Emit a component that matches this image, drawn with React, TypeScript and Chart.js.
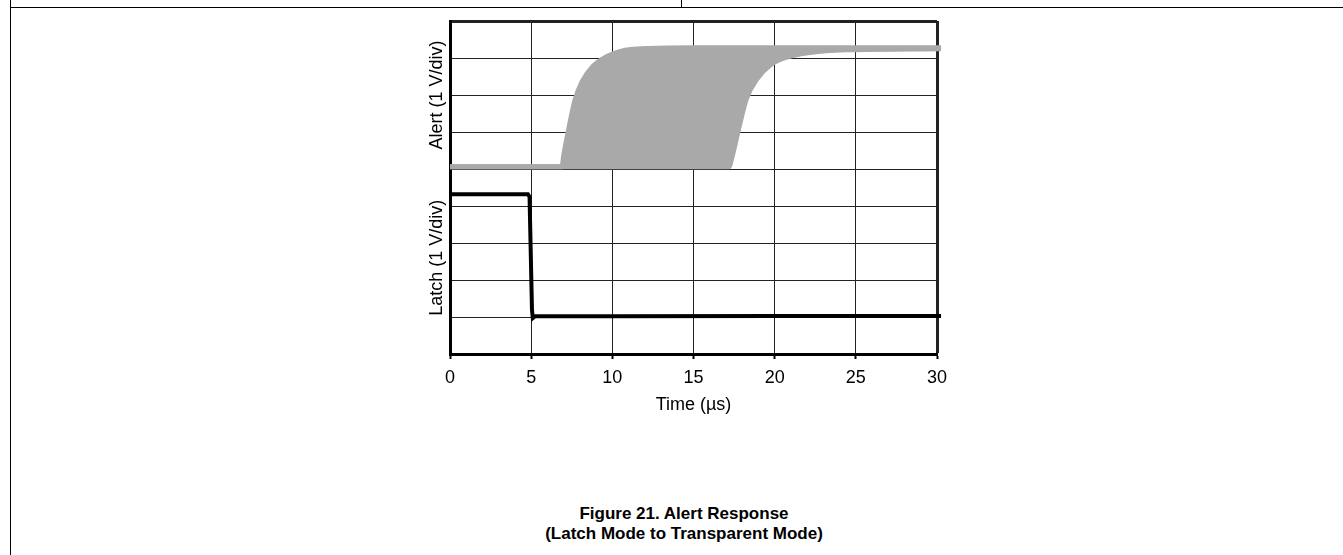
import React, { useEffect, useRef } from "react";
import { Chart, registerables } from "chart.js";

Chart.register(...registerables);

// Time axis ticks (µs)
const timeTicks = [0, 5, 10, 15, 20, 25, 30];

// Alert trace: earliest (left) edge of the persistence envelope
const alertEarlyT = [0, 6.9, 7.0, 7.26, 7.7, 8.14, 8.8, 9.67, 10.5, 12.3, 15, 20, 30.25];
const alertEarlyV = [5.06, 5.06, 5.35, 5.96, 6.86, 7.36, 7.77, 8.04, 8.18, 8.26, 8.28, 8.28, 8.28];

// Alert trace: latest (right) edge of the persistence envelope
const alertLateT = [0, 17.2, 17.3, 17.5, 17.83, 18.26, 18.9, 19.8, 20.7, 22.2, 24.4, 30.25];
const alertLateV = [5.06, 5.06, 5.2, 5.55, 6.18, 6.9, 7.43, 7.84, 8.02, 8.15, 8.22, 8.25];

// Latch trace
const latchT = [0, 4.8, 4.9, 5.05, 5.1, 5.25, 10, 20, 30.25];
const latchV = [4.32, 4.32, 4.25, 1.2, 0.97, 1.02, 1.02, 1.03, 1.03];

const alertLabel = "Alert (1 V/div)";
const latchLabel = "Latch (1 V/div)";
const xTitle = "Time (µs)";
const captionLines = ["Figure 21. Alert Response", "(Latch Mode to Transparent Mode)"];

const FONT = "'Liberation Sans', Arial, sans-serif";
const GRAY = "#a9a9a9";

const toPts = (t: number[], v: number[]) => t.map((x, i) => ({ x, y: v[i] }));

const CANVAS_LEFT = 380;
const CANVAS_W = 600;
const CANVAS_H = 420;

export default function App() {
  const ref = useRef<HTMLCanvasElement | null>(null);

  useEffect(() => {
    if (!ref.current) return;
    const yTitles = {
      id: "yTitles",
      afterDraw(chart: any) {
        const { ctx } = chart;
        const y = chart.scales.y;
        const x = 437 - CANVAS_LEFT;
        ctx.save();
        ctx.fillStyle = "#000";
        ctx.font = `18px ${FONT}`;
        ctx.textAlign = "center";
        ctx.textBaseline = "middle";
        const draw = (text: string, cy: number) => {
          ctx.save();
          ctx.translate(x, cy);
          ctx.rotate(-Math.PI / 2);
          ctx.fillText(text, 0, 0);
          ctx.restore();
        };
        draw(alertLabel, (y.getPixelForValue(5) + y.getPixelForValue(9)) / 2);
        draw(latchLabel, (y.getPixelForValue(0.2) + y.getPixelForValue(5)) / 2);
        ctx.restore();
      },
    };

    const chart = new Chart(ref.current, {
      type: "line",
      data: {
        datasets: [
          {
            data: toPts(alertEarlyT, alertEarlyV),
            borderColor: GRAY,
            borderWidth: 5,
            pointRadius: 0,
            cubicInterpolationMode: "monotone",
            fill: false,
            clip: 5,
          },
          {
            data: toPts(alertLateT, alertLateV),
            borderColor: GRAY,
            backgroundColor: GRAY,
            borderWidth: 5,
            pointRadius: 0,
            cubicInterpolationMode: "monotone",
            fill: "-1",
            clip: 5,
          },
          {
            data: toPts(latchT, latchV),
            borderColor: "#000",
            borderWidth: 4,
            pointRadius: 0,
            tension: 0,
            fill: false,
            clip: 5,
          },
        ],
      },
      options: {
        animation: false,
        responsive: false,
        devicePixelRatio: 1,
        layout: { padding: { top: 21, right: 43, bottom: 0, left: 0 } },
        plugins: { legend: { display: false }, tooltip: { enabled: false } },
        scales: {
          x: {
            type: "linear",
            min: 0,
            max: 30,
            afterBuildTicks: (s: any) => {
              s.ticks = timeTicks.map((v) => ({ value: v }));
            },
            afterFit: (s: any) => {
              s.height = 66;
            },
            ticks: {
              color: "#000",
              font: { family: FONT, size: 18 },
              padding: 8,
              maxRotation: 0,
            },
            grid: {
              color: "#222",
              lineWidth: (c: any) => (c.tick && c.tick.value === 30 ? 3 : 1),
              drawTicks: true,
              tickLength: 5,
              tickWidth: 2,
              tickColor: "#000",
            },
            border: { display: true, width: 3, color: "#000" },
            title: {
              display: true,
              text: xTitle,
              color: "#000",
              font: { family: FONT, size: 18 },
              padding: { top: 0, bottom: 4 },
            },
          },
          y: {
            type: "linear",
            min: 0,
            max: 9,
            ticks: { display: false, stepSize: 1 },
            afterFit: (s: any) => {
              s.width = 70;
            },
            grid: {
              color: "#222",
              lineWidth: (c: any) => (c.tick && c.tick.value === 9 ? 3 : 1),
              drawTicks: false,
            },
            border: { display: true, width: 3, color: "#000" },
          },
        },
      },
      plugins: [yTitles],
    } as any);
    return () => chart.destroy();
  }, []);

  return (
    <div
      style={{
        position: "fixed",
        left: 0,
        top: 0,
        width: 1343,
        height: 555,
        background: "#fff",
        overflow: "hidden",
        fontFamily: FONT,
      }}
    >
      {/* document frame lines */}
      <div style={{ position: "absolute", left: 10, top: 0, width: 1, height: 555, background: "#000" }} />
      <div style={{ position: "absolute", left: 10, top: 7, width: 1333, height: 1, background: "#000" }} />
      <div style={{ position: "absolute", left: 681, top: 0, width: 1, height: 7, background: "#000" }} />
      <canvas
        ref={ref}
        width={CANVAS_W}
        height={CANVAS_H}
        style={{ position: "absolute", left: CANVAS_LEFT, top: 0, width: CANVAS_W, height: CANVAS_H }}
      />
      <div
        style={{
          position: "absolute",
          left: 384,
          width: 600,
          top: 504,
          textAlign: "center",
          fontWeight: "bold",
          fontSize: 17,
          lineHeight: "20px",
          color: "#000",
        }}
      >
        {captionLines.map((l) => (
          <div key={l}>{l}</div>
        ))}
      </div>
    </div>
  );
}
